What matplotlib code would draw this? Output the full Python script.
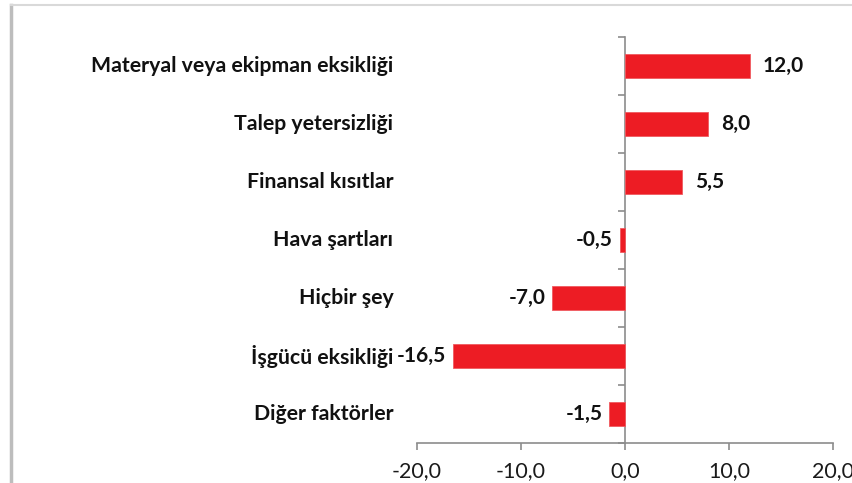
import matplotlib
matplotlib.use("Agg")
import matplotlib.pyplot as plt
from matplotlib.ticker import FuncFormatter, FixedLocator

categories = [
    "Materyal veya ekipman eksikliği",
    "Talep yetersizliği",
    "Finansal kısıtlar",
    "Hava şartları",
    "Hiçbir şey",
    "İşgücü eksikliği",
    "Diğer faktörler",
]
values = [12.0, 8.0, 5.5, -0.5, -7.0, -16.5, -1.5]
x_ticks = [-20, -10, 0, 10, 20]

BAR_COLOR = "#ED1C24"
AXIS_COLOR = "#8c8c8c"
FONT = ["Lato", "DejaVu Sans"]

plt.rcParams["font.family"] = FONT

W, H, DPI = 852, 483, 100
fig = plt.figure(figsize=(W / DPI, H / DPI), dpi=DPI)
fig.patch.set_facecolor("white")

# outer chart frame (left and top edges)
fig.add_artist(plt.Line2D([11 / W, 11 / W], [0, 1 - 5 / H], color="#bdbdbd", lw=2.5,
                          transform=fig.transFigure))
fig.add_artist(plt.Line2D([11 / W, 1], [1 - 5 / H, 1 - 5 / H], color="#d9d9d9", lw=1.5,
                          transform=fig.transFigure))

left, right = 417 / W, 833 / W
top, bottom = 1 - 37 / H, 1 - 443 / H
ax = fig.add_axes([left, bottom, right - left, top - bottom])

pos = list(range(len(categories)))
ax.barh(pos, values, height=0.4, color=BAR_COLOR, edgecolor="#f05a5f", linewidth=0.6, zorder=3)

ax.set_xlim(-20, 20)
ax.set_ylim(len(categories) - 0.5, -0.5)

for s in ("top", "right"):
    ax.spines[s].set_visible(False)
ax.spines["left"].set_position(("data", 0))
for s in ("left", "bottom"):
    ax.spines[s].set_color(AXIS_COLOR)
    ax.spines[s].set_linewidth(1.2)

ax.set_xticks(x_ticks)
ax.xaxis.set_major_formatter(FuncFormatter(lambda v, p: f"{v:.1f}".replace(".", ",")))
ax.tick_params(axis="x", direction="out", length=5, width=1.2, color=AXIS_COLOR,
               labelsize=15.4, labelcolor="#1a1a1a", pad=8)

ax.set_yticks([])
ax.yaxis.set_minor_locator(FixedLocator([i - 0.5 for i in range(len(categories) + 1)]))
ax.tick_params(axis="y", which="minor", direction="out", length=5, width=1.2, color=AXIS_COLOR)

# category labels at the left edge of the plot area
ytrans = ax.get_yaxis_transform()
for i, c in enumerate(categories):
    ax.annotate(c, xy=(0, i), xycoords=ytrans, xytext=(-17, 0), textcoords="offset points",
                ha="right", va="center", fontsize=15.3, fontweight="bold", color="#111111")

# value labels
for i, v in enumerate(values):
    txt = f"{v:.1f}".replace(".", ",")
    if v >= 0:
        off, ha = 9, "left"
    else:
        off, ha = -5, "right"
    ax.annotate(txt, xy=(v, i), xytext=(off, 0), textcoords="offset points",
                ha=ha, va="center", fontsize=15, fontweight="bold", color="#111111")

fig.savefig("out.png", dpi=DPI, facecolor="white")
